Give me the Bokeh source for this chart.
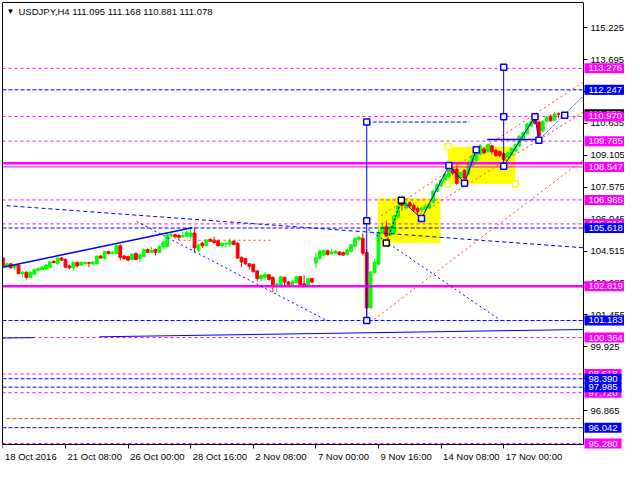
from bokeh.plotting import figure
from bokeh.models import (ColumnDataSource, FixedTicker, Label, Range1d, LinearAxis,
                          PrintfTickFormatter)
from bokeh.embed import file_html
from bokeh.resources import INLINE

# ---------------- data (H4 candles, bar index 0 = 18 Oct 2016) ----------------
opens = [104.18, 103.78, 103.90, 103.71, 103.84, 103.43, 103.50, 103.25, 103.40, 103.59,
         103.62, 103.65, 103.74, 104.02, 103.90, 104.18, 104.11, 103.80, 103.71, 103.96,
         103.84, 103.90, 103.96, 103.90, 103.90, 104.27, 104.15, 104.49, 104.39, 104.39,
         104.77, 104.27, 104.24, 104.11, 104.39, 104.15, 104.24, 104.58, 104.45, 104.58,
         104.45, 104.73, 104.73, 105.26, 105.29, 105.26, 105.20, 105.23, 105.20, 105.38,
         104.55, 104.89, 104.77, 105.08, 105.04, 105.01, 104.77, 104.86, 104.83, 104.98,
         104.89, 104.21, 104.15, 103.90, 103.87, 103.56, 103.19, 103.25, 103.37, 103.25,
         102.81, 102.87, 103.25, 103.03, 102.91, 103.00, 103.28, 102.94, 102.87, 103.19,
         103.94, 104.16, 104.32, 104.53, 104.38, 104.41, 104.47, 104.44, 104.35, 104.50,
         104.75, 105.06, 105.12, 104.44, 101.80, 103.48, 103.88, 105.37, 105.68, 105.28,
         105.37, 106.15, 106.95, 106.58, 106.83, 106.70, 106.55, 106.49, 106.52, 106.58,
         106.83, 107.38, 107.63, 107.82, 108.07, 108.44, 108.44, 108.03, 108.38, 108.22,
         108.62, 108.84, 109.15, 109.40, 109.28, 109.56, 109.34, 109.28, 109.18, 109.00,
         109.12, 109.31, 109.56, 109.83, 110.14, 110.51, 110.98, 110.70, 110.27, 110.73,
         110.98, 110.79, 111.095]
highs = [104.25, 103.96, 103.95, 103.88, 103.86, 103.56, 103.53, 103.53, 103.67, 103.73,
         103.79, 103.90, 104.05, 104.07, 104.22, 104.23, 104.16, 103.86, 104.02, 104.02,
         104.01, 104.01, 104.00, 104.04, 104.32, 104.32, 104.52, 104.53, 104.51, 104.83,
         104.83, 104.32, 104.29, 104.42, 104.44, 104.39, 104.64, 104.64, 104.71, 104.63,
         104.79, 105.00, 105.35, 105.38, 105.35, 105.32, 105.45, 105.51, 105.60, 105.65,
         104.86, 104.95, 105.09, 105.11, 105.20, 105.07, 104.93, 104.98, 105.14, 105.04,
         104.93, 104.25, 104.18, 103.93, 103.91, 103.59, 103.39, 103.50, 103.42, 103.29,
         103.00, 103.32, 103.29, 103.07, 103.11, 103.32, 103.32, 103.34, 103.23, 103.23,
         104.44, 104.59, 104.58, 104.58, 104.63, 104.56, 104.51, 104.49, 104.61, 104.86,
         105.18, 105.22, 105.37, 104.59, 103.56, 104.13, 105.50, 105.87, 105.96, 105.84,
         106.25, 106.72, 107.08, 106.92, 106.90, 106.81, 106.63, 106.63, 106.77, 106.81,
         107.46, 107.79, 107.97, 108.25, 108.50, 108.53, 108.53, 108.34, 108.44, 108.86,
         109.16, 109.28, 109.65, 109.51, 109.68, 109.62, 109.42, 109.34, 109.23, 109.28,
         109.48, 109.68, 110.07, 110.26, 110.67, 110.81, 111.04, 110.76, 110.81, 110.98,
         111.07, 111.20, 111.168]
lows = [103.72, 103.71, 103.67, 103.62, 103.40, 103.25, 103.15, 103.21, 103.37, 103.56,
        103.59, 103.56, 103.71, 103.93, 103.87, 104.04, 103.70, 103.65, 103.56, 103.72,
        103.79, 103.86, 103.74, 103.86, 103.86, 104.14, 104.11, 104.36, 104.36, 104.36,
        104.08, 104.10, 104.02, 104.08, 104.07, 103.99, 104.21, 104.42, 104.42, 104.30,
        104.42, 104.64, 104.70, 105.17, 105.11, 105.04, 105.14, 105.18, 105.11, 104.45,
        104.45, 104.67, 104.73, 104.95, 104.88, 104.73, 104.67, 104.67, 104.71, 104.79,
        104.14, 103.74, 103.86, 103.62, 103.49, 103.06, 103.06, 103.12, 103.11, 102.53,
        102.53, 102.84, 102.87, 102.86, 102.81, 102.95, 102.84, 102.81, 102.84, 102.97,
        103.70, 104.10, 104.28, 104.30, 104.35, 104.37, 104.30, 104.28, 104.30, 104.46,
        104.72, 105.00, 104.32, 101.18, 101.71, 103.42, 103.84, 105.32, 105.18, 105.23,
        105.32, 106.11, 106.45, 106.49, 106.58, 106.39, 106.24, 106.39, 106.45, 106.53,
        106.79, 107.34, 107.60, 107.79, 108.02, 108.16, 107.70, 107.97, 107.95, 108.16,
        108.58, 108.81, 109.09, 109.15, 109.23, 109.15, 109.03, 109.00, 108.81, 108.95,
        109.07, 109.28, 109.51, 109.79, 110.11, 110.48, 110.58, 109.83, 110.21, 110.67,
        110.72, 110.75, 110.881]
closes = [103.78, 103.90, 103.71, 103.84, 103.43, 103.50, 103.25, 103.50, 103.62, 103.68,
          103.74, 103.84, 103.99, 103.96, 104.18, 104.08, 103.74, 103.71, 103.96, 103.80,
          103.96, 103.96, 103.93, 103.99, 104.27, 104.18, 104.49, 104.39, 104.45, 104.77,
          104.21, 104.15, 104.08, 104.36, 104.11, 104.33, 104.58, 104.45, 104.55, 104.45,
          104.73, 104.95, 105.29, 105.32, 105.20, 105.17, 105.26, 105.42, 105.38, 104.67,
          104.80, 104.77, 105.04, 104.98, 104.92, 104.77, 104.89, 104.89, 104.98, 104.83,
          104.18, 103.99, 103.90, 103.78, 103.52, 103.19, 103.34, 103.40, 103.15, 102.85,
          102.94, 103.28, 103.03, 102.91, 103.06, 103.28, 102.87, 102.87, 103.19, 103.03,
          104.19, 104.50, 104.53, 104.35, 104.47, 104.50, 104.35, 104.32, 104.57, 104.81,
          105.12, 105.18, 104.41, 101.78, 103.51, 103.98, 105.37, 105.68, 105.24, 105.68,
          106.21, 106.67, 106.70, 106.80, 106.67, 106.49, 106.39, 106.58, 106.67, 106.77,
          107.38, 107.69, 107.91, 108.19, 108.44, 108.25, 107.76, 108.28, 108.01, 108.78,
          109.09, 109.22, 109.56, 109.22, 109.62, 109.28, 109.09, 109.09, 108.90, 109.22,
          109.43, 109.62, 110.02, 110.20, 110.61, 110.73, 110.64, 110.05, 110.73, 110.92,
          110.76, 111.09, 111.078]

x_tick_bars = [0, 16, 32, 48, 64, 80, 96, 112, 128]
x_tick_labels = ["18 Oct 2016", "21 Oct 08:00", "26 Oct 00:00", "28 Oct 16:00", "2 Nov 08:00",
                 "7 Nov 00:00", "9 Nov 16:00", "14 Nov 08:00", "17 Nov 00:00"]
y_ticks = [115.225, 113.695, 112.165, 110.635, 109.105, 107.575, 106.045, 104.515,
           102.985, 101.455, 99.925, 98.395, 96.865]

magenta_dashed_levels = [113.276, 110.970, 109.785, 106.965, 105.816, 100.364, 98.618, 97.720, 95.280]
magenta_thin_levels = [108.547]
magenta_thick_levels = [108.73, 102.819]
blue_dashed_levels = [112.247, 105.618, 101.183, 98.390, 97.985, 96.042]
orange_dashed_levels = [96.475]
magenta_price_labels = [113.276, 110.970, 109.785, 108.547, 106.965, 105.816, 102.819, 100.364, 98.618, 97.720, 95.280]
blue_price_labels = [112.247, 105.618, 101.183, 98.390, 97.985, 96.042]
last_price = 111.078

# drawn objects (bar index, price)
support_bars, support_prices = [0, 48.35], [103.74, 105.63]
long_dash_bars, long_dash_prices = [0.93, 148.4], [106.69, 104.67]
down1_bars, down1_prices = [34.2, 82.7], [105.93, 101.19]
down2_bars, down2_prices = [93.4, 127.2], [105.55, 101.19]
vert1_bars, vert1_prices = [93, 93], [110.70, 101.18]
vert1_pts = [110.70, 105.97, 101.18]
vert1_dash_bars, vert1_dash_prices = [93, 119.2], [110.70, 110.70]
vert2_bars, vert2_prices = [128, 128], [113.33, 108.58]
vert2_pts = [113.33, 110.95, 108.58]
level_bars, level_prices = [123.8, 137], [109.86, 109.86]
proj_bars, proj_prices = [137, 148.4], [109.83, 111.96]
zig_bars, zig_prices = [101.85, 107, 114, 118, 121], [106.95, 106.07, 108.62, 107.77, 109.37]
zig2_bars, zig2_prices = [128, 136, 137], [108.58, 110.95, 109.83]
proj_pt_bars, proj_pt_prices = [143.6], [111.03]
black_bars, black_prices = [98, 101.85], [104.90, 106.95]
rect_left, rect_right = [95.85, 113.8], [111.85, 131]
rect_bottom, rect_top = [104.90, 107.74], [107.04, 109.52]
yellow_pt_bars, yellow_pt_prices = [113.8, 113.8, 131], [109.52, 107.74, 107.74]
orange_lines_x0 = [94.9, 96.7, 106.7, 44.9]
orange_lines_y0 = [101.23, 106.21, 106.30, 105.03]
orange_lines_x1 = [148.4, 148.4, 148.4, 68.4]
orange_lines_y1 = [108.90, 112.62, 111.18, 105.03]
base_x0, base_y0 = [0, 24.7], [100.34, 100.40]
base_x1, base_y1 = [7.9, 148.4], [100.36, 100.75]
orange_level_start = 0.9

# ---------------- layout constants ----------------
FONT = "Liberation Sans"
FS = "9.5px"
PXB = 3.906                      # pixels per bar
X0 = -0.1
AXIS_X = 148.4                   # price axis position (bar units)
X1 = X0 + 621 / PXB
PXU = 20.85                      # pixels per yen
AXIS_Y = 95.235                  # date axis position (price units)
Y1 = 116.434
Y0 = Y1 - 462 / PXU

p = figure(width=624, height=464, output_backend="svg", toolbar_location=None,
           x_range=Range1d(X0, X1), y_range=Range1d(Y0, Y1),
           x_axis_location=None, y_axis_location=None,
           min_border_left=2, min_border_top=2, min_border_right=0, min_border_bottom=0)
p.xgrid.visible = False
p.ygrid.visible = False
p.outline_line_color = None
p.background_fill_color = "white"

# yellow rectangles (background)
p.quad(left=rect_left, right=rect_right, bottom=rect_bottom, top=rect_top,
       fill_color="#ffff00", line_color=None)

# candles
up = [c >= o for o, c in zip(opens, closes)]
src = ColumnDataSource(dict(
    x=list(range(len(opens))), o=opens, h=highs, l=lows, c=closes,
    top=[max(o, c) for o, c in zip(opens, closes)],
    bot=[min(o, c) for o, c in zip(opens, closes)],
    col=["#00ff00" if u else "#ff0000" for u in up]))
p.segment(x0="x", y0="l", x1="x", y1="h", color="col", line_width=1, source=src)
p.vbar(x="x", top="top", bottom="bot", width=0.72, fill_color="col", line_color="col", source=src)

# horizontal levels (end at the price axis)
def hlines(levels, start=X0, **kw):
    n = len(levels)
    p.segment(x0=[start] * n, x1=[AXIS_X] * n, y0=levels, y1=levels, **kw)

hlines(magenta_dashed_levels, line_color="#ff00ff", line_dash="3 3", line_width=1)
hlines(blue_dashed_levels, line_color="#0000ff", line_dash="4 2", line_width=1)
hlines(orange_dashed_levels, start=orange_level_start, line_color="#ff4500", line_dash="4 2", line_width=1)
hlines(magenta_thin_levels, line_color="#ff00ff", line_width=1)
hlines(magenta_thick_levels, line_color="#ff00ff", line_width=2.5)

# trend lines and tools
p.segment(x0=base_x0, y0=base_y0, x1=base_x1, y1=base_y1, line_color="#0000ff", line_width=1)
p.line(support_bars, support_prices, line_color="#0000ff", line_width=1.5)
p.line(long_dash_bars, long_dash_prices, line_color="#0000ff", line_dash="4 3", line_width=1)
p.line(down1_bars, down1_prices, line_color="#0000ff", line_dash="2 3", line_width=1)
p.line(down2_bars, down2_prices, line_color="#0000ff", line_dash="2 3", line_width=1)
p.segment(x0=orange_lines_x0, y0=orange_lines_y0, x1=orange_lines_x1, y1=orange_lines_y1,
          line_color="#ff4500", line_dash="2 3", line_width=1)
p.line(vert1_bars, vert1_prices, line_color="#0000ff", line_width=1)
p.line(vert1_dash_bars, vert1_dash_prices, line_color="#0000ff", line_dash="4 2", line_width=1)
p.line(vert2_bars, vert2_prices, line_color="#0000ff", line_width=1)
p.line(level_bars, level_prices, line_color="#0000ff", line_width=1.5)
p.line(proj_bars, proj_prices, line_color="#0000ff", line_dash="1 1", line_width=1)
p.line(zig_bars, zig_prices, line_color="#0000ff", line_width=1)
p.line(zig2_bars, zig2_prices, line_color="#0000ff", line_width=1)
p.line(black_bars, black_prices, line_color="black", line_dash="2 2", line_width=1)

sq = dict(marker="square", size=6, fill_color="white", line_width=1.5)
p.scatter(vert1_bars[:1] * 3, vert1_pts, line_color="#0000ff", **sq)
p.scatter(vert2_bars[:1] * 3, vert2_pts, line_color="#0000ff", **sq)
p.scatter(zig_bars[1:] + zig2_bars[1:] + proj_pt_bars, zig_prices[1:] + zig2_prices[1:] + proj_pt_prices,
          line_color="#0000ff", **sq)
p.scatter(black_bars, black_prices, line_color="black", **sq)
p.scatter(yellow_pt_bars, yellow_pt_prices, line_color="#ffff00", **sq)

# ---------------- axes ----------------
def plain_axis(**kw):
    return LinearAxis(ticker=FixedTicker(ticks=[]), axis_line_color="black",
                      major_tick_line_color=None, minor_tick_line_color=None,
                      major_label_standoff=0, major_tick_out=0, major_tick_in=0, **kw)

p.add_layout(plain_axis(bounds=(AXIS_Y, Y1)), "left")
p.add_layout(plain_axis(bounds=(X0, AXIS_X)), "above")

yax = LinearAxis(ticker=FixedTicker(ticks=y_ticks), formatter=PrintfTickFormatter(format="%.3f"),
                 fixed_location=AXIS_X, bounds=(AXIS_Y, Y1),
                 axis_line_color="black", minor_tick_line_color=None,
                 major_tick_in=0, major_tick_out=4, major_label_standoff=3,
                 major_label_text_font=FONT, major_label_text_font_size=FS,
                 major_label_text_color="black")
p.add_layout(yax, "right")

# date axis: tick marks (minor ticks) at the bars, each label centred half its width
# to the right of its tick so that it reads left-aligned
CW = {c: 0.556 for c in "0123456789"}
CW.update({" ": 0.278, ":": 0.278, "O": 0.778, "c": 0.5, "t": 0.278, "N": 0.722, "o": 0.556, "v": 0.5})
def text_w(s):
    return sum(CW.get(ch, 0.55) for ch in s) * 9.5

label_pos = [round(b + (text_w(t) / 2 + 2) / PXB, 3) for b, t in zip(x_tick_bars, x_tick_labels)]
xax = LinearAxis(ticker=FixedTicker(ticks=label_pos, minor_ticks=x_tick_bars),
                 major_label_overrides={pos: t for pos, t in zip(label_pos, x_tick_labels)},
                 fixed_location=AXIS_Y, bounds=(X0, AXIS_X), axis_line_color="black",
                 major_tick_line_color=None, major_tick_in=0, major_tick_out=0,
                 minor_tick_line_color="black", minor_tick_in=0, minor_tick_out=4,
                 major_label_standoff=3,
                 major_label_text_font=FONT, major_label_text_font_size=FS,
                 major_label_text_color="black")
p.add_layout(xax, "below")

# price boxes on the right of the axis (current price box underneath)
box = dict(x=AXIS_X, x_offset=1, text_color="white", text_font=FONT, text_font_size=FS,
           text_baseline="middle", text_align="left", padding=(4, 2))
p.add_layout(Label(y=last_price, text=f"{last_price:.3f}", background_fill_color="black", **box))
for levels, colr in ((magenta_price_labels, "#ff00ff"), (blue_price_labels, "#0000ff")):
    for v in levels:
        p.add_layout(Label(y=v, text=f"{v:.3f}", background_fill_color=colr, **box))

# header
p.add_layout(Label(x=X0, y=116.02, x_offset=4, text="\u25bc", text_font_size="8px",
                   text_baseline="middle", text_color="black"))
p.add_layout(Label(x=X0, y=116.02, x_offset=16, text="USDJPY,H4  111.095 111.168 110.881 111.078",
                   text_font=FONT, text_font_size=FS, text_baseline="middle", text_color="black"))

open("out.html", "w").write(file_html(p, INLINE))
